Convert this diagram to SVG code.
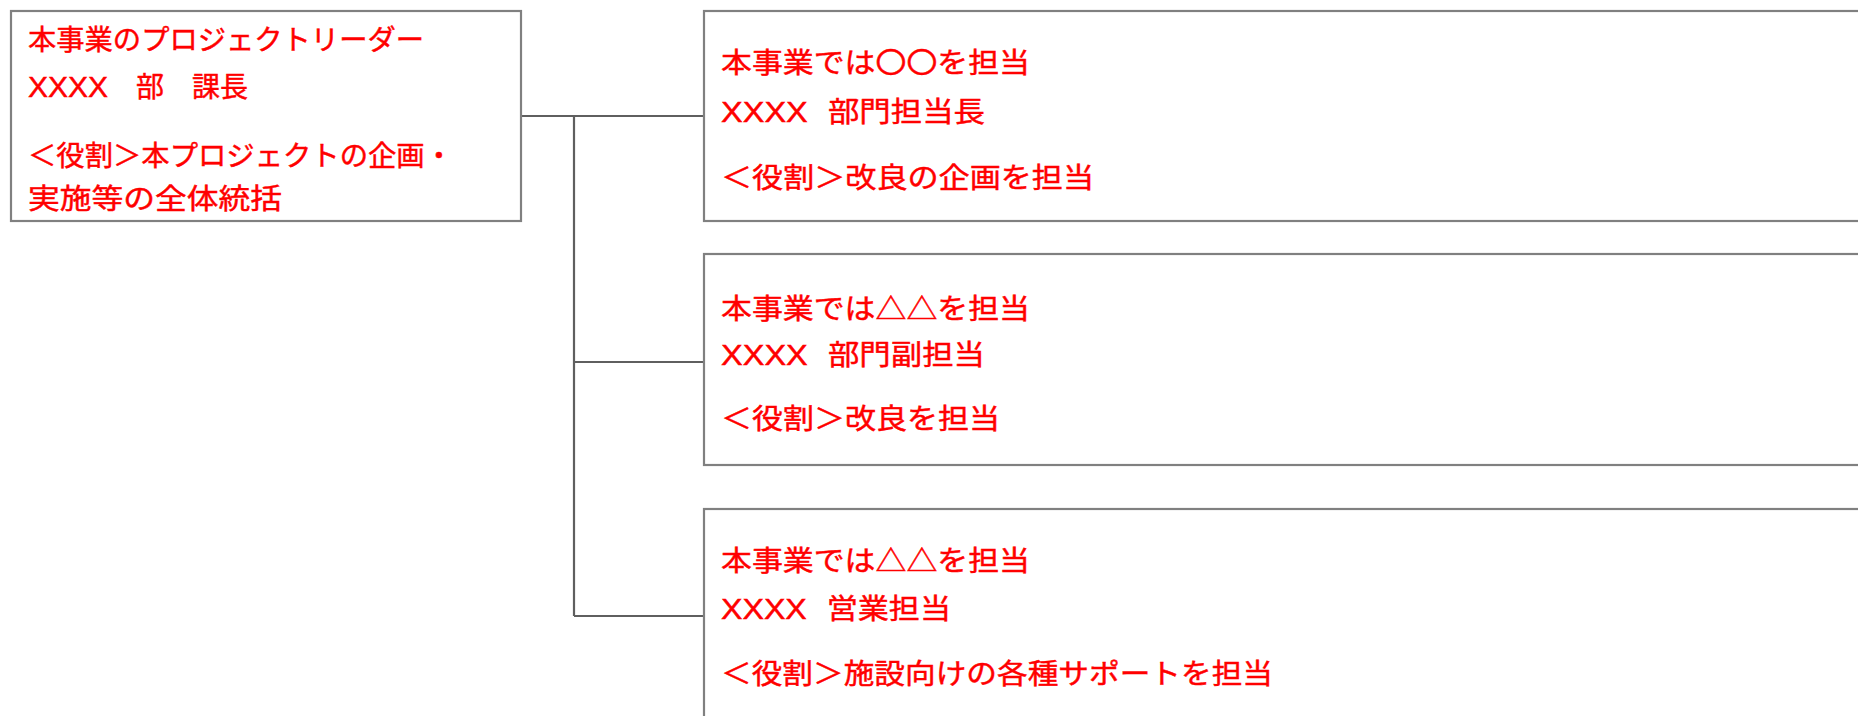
<svg xmlns="http://www.w3.org/2000/svg" width="1858" height="716" viewBox="0 0 1858 716">
<style>
.box{fill:#ffffff;stroke:#808080;stroke-width:2.2}
.con{fill:none;stroke:#5f5f5f;stroke-width:2.2}
.t{font-family:"Noto Sans CJK JP","Noto Sans",sans-serif;font-size:28px;fill:#ff0000;stroke:#ff0000;stroke-width:0.45}
.x{font-family:"Liberation Sans",Arial,sans-serif;font-size:30px}
.xr{font-family:"Liberation Sans",Arial,sans-serif;font-size:29px}
.sp{font-size:18px}
</style>
<rect width="1858" height="716" fill="#ffffff"/>
<g id="connectors">
<path class="con" d="M521 116H704M574 116V616M574 362H704M574 616H704"/>
</g>
<g id="leader">
<rect class="box" x="11" y="11" width="510" height="210"/>
<text class="t" x="28" y="50" textLength="396" lengthAdjust="spacingAndGlyphs">本事業のプロジェクトリーダー</text>
<text class="t" x="28" y="97"><tspan class="x">XXXX</tspan>　部　課長</text>
<text class="t" x="28" y="166" textLength="425" lengthAdjust="spacingAndGlyphs">＜役割＞本プロジェクトの企画・</text>
<text class="t" x="28" y="209" textLength="254" lengthAdjust="spacingAndGlyphs">実施等の全体統括</text>
</g>
<g id="member1">
<rect class="box" x="704" y="11" width="1170" height="210"/>
<text class="t" x="721" y="73" textLength="309" lengthAdjust="spacingAndGlyphs">本事業では〇〇を担当</text>
<text class="t" x="721" y="122" textLength="264" lengthAdjust="spacingAndGlyphs"><tspan class="xr">XXXX</tspan><tspan class="sp">　</tspan>部門担当長</text>
<text class="t" x="721" y="188" textLength="373" lengthAdjust="spacingAndGlyphs">＜役割＞改良の企画を担当</text>
</g>
<g id="member2">
<rect class="box" x="704" y="254" width="1170" height="211"/>
<text class="t" x="721" y="319" textLength="309" lengthAdjust="spacingAndGlyphs">本事業では△△を担当</text>
<text class="t" x="721" y="365" textLength="264" lengthAdjust="spacingAndGlyphs"><tspan class="xr">XXXX</tspan><tspan class="sp">　</tspan>部門副担当</text>
<text class="t" x="721" y="429" textLength="279" lengthAdjust="spacingAndGlyphs">＜役割＞改良を担当</text>
</g>
<g id="member3">
<rect class="box" x="704" y="509" width="1170" height="240"/>
<text class="t" x="721" y="571" textLength="309" lengthAdjust="spacingAndGlyphs">本事業では△△を担当</text>
<text class="t" x="721" y="619" textLength="230" lengthAdjust="spacingAndGlyphs"><tspan class="xr">XXXX</tspan><tspan class="sp">　</tspan>営業担当</text>
<text class="t" x="721" y="684" textLength="552" lengthAdjust="spacingAndGlyphs">＜役割＞施設向けの各種サポートを担当</text>
</g>
</svg>
